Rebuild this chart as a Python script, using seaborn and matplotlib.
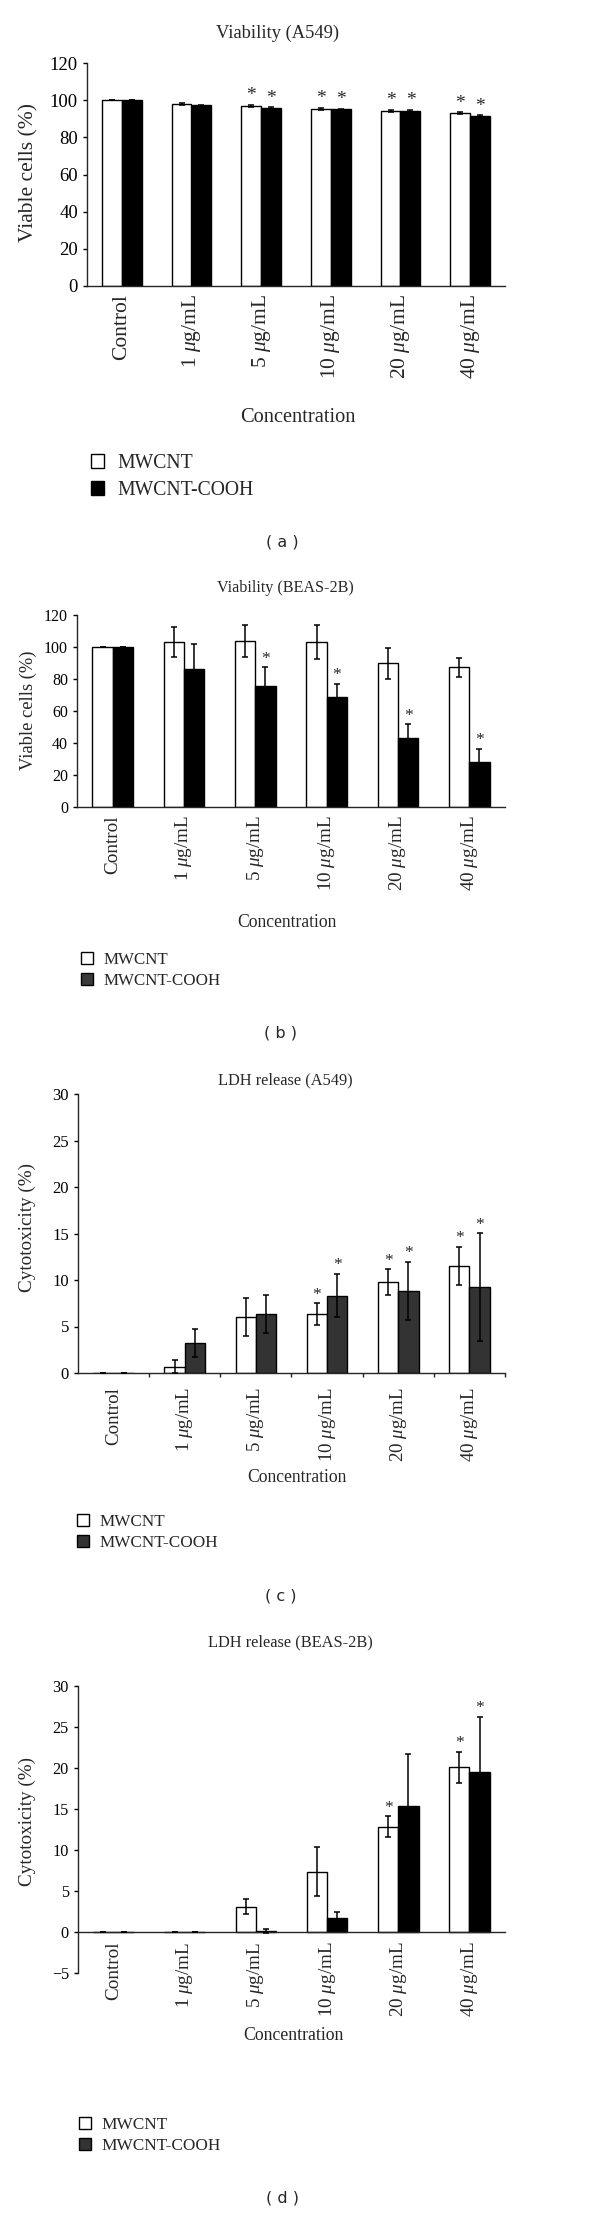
import matplotlib
matplotlib.use("Agg")
import matplotlib.pyplot as plt
from matplotlib.patches import Patch
import numpy as np
import pandas as pd
import seaborn as sns

# ---- data ----
concentrations = ["Control", "1 $\\mu$g/mL", "5 $\\mu$g/mL",
                  "10 $\\mu$g/mL", "20 $\\mu$g/mL", "40 $\\mu$g/mL"]
series = ["MWCNT", "MWCNT-COOH"]

# (a) viability A549
via_a549_mw = [100.0, 98.1, 96.7, 95.2, 94.3, 92.9]
via_a549_mw_err = [0.0, 0.5, 0.6, 0.5, 0.5, 0.6]
via_a549_cooh = [100.1, 97.2, 95.8, 95.0, 94.3, 91.5]
via_a549_cooh_err = [0.0, 0.3, 0.3, 0.3, 0.4, 0.4]
via_a549_star_mw = [0, 0, 1, 1, 1, 1]
via_a549_star_cooh = [0, 0, 1, 1, 1, 1]

# (b) viability BEAS-2B
via_beas_mw = [100.0, 102.9, 103.8, 102.9, 89.8, 87.3]
via_beas_mw_err = [0.0, 9.4, 9.8, 10.7, 9.8, 6.0]
via_beas_cooh = [100.3, 86.4, 75.8, 68.5, 43.0, 28.4]
via_beas_cooh_err = [0.0, 15.5, 11.5, 8.3, 8.6, 8.1]
via_beas_star_mw = [0, 0, 0, 0, 0, 0]
via_beas_star_cooh = [0, 0, 1, 1, 1, 1]

# (c) LDH release A549
ldh_a549_mw = [0.0, 0.68, 6.0, 6.34, 9.78, 11.53]
ldh_a549_mw_err = [0.0, 0.7, 2.05, 1.15, 1.36, 2.07]
ldh_a549_cooh = [0.0, 3.19, 6.34, 8.31, 8.85, 9.24]
ldh_a549_cooh_err = [0.0, 1.5, 2.0, 2.33, 3.1, 5.77]
ldh_a549_star_mw = [0, 0, 0, 1, 1, 1]
ldh_a549_star_cooh = [0, 0, 0, 1, 1, 1]

# (d) LDH release BEAS-2B
ldh_beas_mw = [0.0, 0.0, 3.09, 7.37, 12.83, 20.07]
ldh_beas_mw_err = [0.0, 0.0, 0.94, 3.0, 1.26, 1.9]
ldh_beas_cooh = [0.0, 0.0, 0.1, 1.67, 15.39, 19.5]
ldh_beas_cooh_err = [0.0, 0.0, 0.25, 0.77, 6.27, 6.7]
ldh_beas_star_mw = [0, 0, 0, 0, 1, 1]
ldh_beas_star_cooh = [0, 0, 0, 0, 0, 1]

sns.set_style("ticks")
plt.rcParams["font.family"] = ["Liberation Serif", "DejaVu Serif"]
plt.rcParams["mathtext.fontset"] = "custom"
plt.rcParams["mathtext.it"] = "Liberation Serif:italic"
plt.rcParams["mathtext.rm"] = "Liberation Serif"
plt.rcParams["axes.linewidth"] = 1.0

W, H = 600, 2214
fig = plt.figure(figsize=(W / 100, H / 100), dpi=100)


def rect(x0, y0, x1, y1):
    return [x0 / W, 1 - y1 / H, (x1 - x0) / W, (y1 - y0) / H]


def ftext(x, y, s, **kw):
    fig.text(x / W, 1 - y / H, s, ha="center", va="center", **kw)


def draw_panel(ax, mw, mw_err, cooh, cooh_err, star_mw, star_cooh,
               bar_dark, ylim, yticks, fs_tick, fs_xtick, fs_star, xpad,
               boundary_ticks=False, zero_axis=False):
    df = pd.DataFrame({
        "conc": concentrations * 2,
        "value": mw + cooh,
        "series": [series[0]] * len(mw) + [series[1]] * len(cooh),
    })
    sns.barplot(data=df, x="conc", y="value", hue="series",
                order=concentrations, hue_order=series,
                palette=["white", bar_dark], saturation=1,
                edgecolor="black", linewidth=1.0, width=0.57,
                errorbar=None, legend=False, ax=ax)
    errs = [mw_err, cooh_err]
    stars = [star_mw, star_cooh]
    bar_containers = list(ax.containers)
    for k, cont in enumerate(bar_containers):
        patches = sorted(cont.patches, key=lambda p: p.get_x())
        for j, p in enumerate(patches):
            x = p.get_x() + p.get_width() / 2
            h = p.get_height()
            ax.errorbar(x, h, yerr=errs[k][j], fmt="none", ecolor="black",
                        elinewidth=1.1, capsize=2.3, capthick=1.1, zorder=3)
            if stars[k][j]:
                ax.annotate("*", (x, h + errs[k][j]), xytext=(0, 0.5),
                            textcoords="offset points", ha="center",
                            va="bottom", fontsize=fs_star)
    sns.despine(ax=ax)
    if zero_axis:
        ax.spines["bottom"].set_position(("data", 0))
    ax.set_xlim(-0.5, 5.5)
    ax.set_ylim(*ylim)
    ax.set_yticks(yticks)
    ax.set_xticks(range(len(concentrations)))
    ax.set_xticklabels(concentrations, rotation=90, fontsize=fs_xtick)
    ax.tick_params(axis="y", length=3, width=1, pad=3.5, labelsize=fs_tick,
                   colors="black")
    ax.tick_params(axis="x", length=0, pad=xpad)
    if boundary_ticks:
        ax.set_xticks(np.arange(0.5, 6, 1), minor=True)
        ax.tick_params(axis="x", which="minor", length=3, width=1)
    ax.set_xlabel("")
    ax.set_ylabel("")


def add_legend(x, y_top, dark, fs, spacing):
    handles = [Patch(facecolor="white", edgecolor="black", linewidth=1.0),
               Patch(facecolor=dark, edgecolor="black", linewidth=1.0)]
    fig.legend(handles=handles, labels=series, loc="upper left",
               bbox_to_anchor=(x / W, 1 - y_top / H), frameon=False,
               fontsize=fs, handlelength=0.68, handleheight=0.68,
               handletextpad=0.65, labelspacing=spacing, borderpad=0,
               borderaxespad=0)


# (a)
ax_a = fig.add_axes(rect(87, 63, 505, 286))
draw_panel(ax_a, via_a549_mw, via_a549_mw_err, via_a549_cooh,
           via_a549_cooh_err, via_a549_star_mw, via_a549_star_cooh,
           "black", (0, 120), range(0, 121, 20), 13.5, 15.5, 14, 6)
ftext(278, 33, "Viability (A549)", fontsize=13.3)
ftext(29, 172, "Viable cells (%)", fontsize=15.5, rotation=90)
ftext(298, 417, "Concentration", fontsize=14.7)
add_legend(91, 454, "black", 14.2, 0.4)
ftext(282, 542, "( a )", fontsize=11.5, family="DejaVu Sans")

# (b)
ax_b = fig.add_axes(rect(77, 615, 505, 807))
draw_panel(ax_b, via_beas_mw, via_beas_mw_err, via_beas_cooh,
           via_beas_cooh_err, via_beas_star_mw, via_beas_star_cooh,
           "black", (0, 120), range(0, 121, 20), 11.5, 13.8, 12.5, 6)
ftext(285, 588, "Viability (BEAS-2B)", fontsize=11.6)
ftext(28, 710, "Viable cells (%)", fontsize=13.3, rotation=90)
ftext(287, 923, "Concentration", fontsize=12.7)
add_legend(81, 952, "#3a3a3a", 12.2, 0.3)
ftext(281, 1033, "( b )", fontsize=11.5, family="DejaVu Sans")

# (c)
ax_c = fig.add_axes(rect(78, 1094, 505, 1373))
draw_panel(ax_c, ldh_a549_mw, ldh_a549_mw_err, ldh_a549_cooh,
           ldh_a549_cooh_err, ldh_a549_star_mw, ldh_a549_star_cooh,
           "#333333", (0, 30), range(0, 31, 5), 12, 13.6, 12.5, 10,
           boundary_ticks=True)
ftext(285, 1080, "LDH release (A549)", fontsize=11.8)
ftext(27, 1227, "Cytotoxicity (%)", fontsize=13.8, rotation=90)
ftext(297, 1478, "Concentration", fontsize=12.7)
add_legend(77, 1514, "#333333", 12.3, 0.3)
ftext(281, 1596, "( c )", fontsize=11.5, family="DejaVu Sans")

# (d)
ax_d = fig.add_axes(rect(78, 1686, 505, 1973))
draw_panel(ax_d, ldh_beas_mw, ldh_beas_mw_err, ldh_beas_cooh,
           ldh_beas_cooh_err, ldh_beas_star_mw, ldh_beas_star_cooh,
           "black", (-5, 30), range(-5, 31, 5), 11.7, 13.8, 12.5, 7,
           zero_axis=True)
ftext(290, 1642, "LDH release (BEAS-2B)", fontsize=11.8)
ftext(27, 1822, "Cytotoxicity (%)", fontsize=13.8, rotation=90)
ftext(293, 2036, "Concentration", fontsize=12.8)
add_legend(79, 2117, "#333333", 12.4, 0.3)
ftext(282, 2198, "( d )", fontsize=11.5, family="DejaVu Sans")

fig.savefig("out.png", dpi=100, facecolor="white")
plt.close(fig)
